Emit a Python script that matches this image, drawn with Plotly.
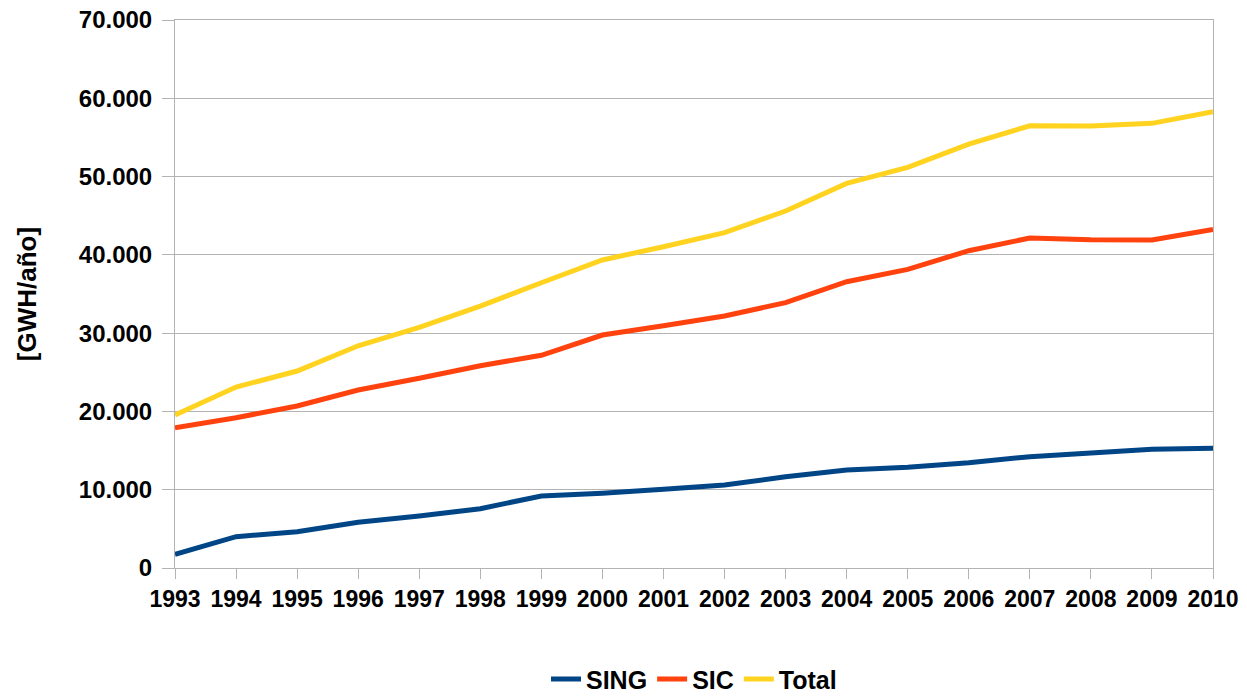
import plotly.graph_objects as go

years = list(range(1993, 2011))
sing = [1750, 4000, 4640, 5840, 6640, 7580, 9200, 9540, 10050, 10600,
        11660, 12520, 12860, 13450, 14220, 14730, 15160, 15290]
sic = [17920, 19200, 20690, 22730, 24230, 25840, 27170, 29760, 30950, 32190,
       33900, 36570, 38150, 40530, 42150, 41930, 41890, 43260]
total = [19540, 23120, 25160, 28390, 30740, 33460, 36440, 39350, 41040, 42830,
         45600, 49130, 51180, 54150, 56490, 56450, 56800, 58280]

series = [("SING", sing, "#004586"), ("SIC", sic, "#ff420e"), ("Total", total, "#ffd320")]

fig = go.Figure()
for name, vals, color in series:
    fig.add_trace(go.Scatter(x=years, y=vals, mode="lines", name=name,
                             line=dict(color=color, width=5)))

fnt = "Liberation Sans, Arial, sans-serif"
# page body has an 8px margin, so the figure is a bit smaller than the window
fig.update_layout(
    width=1239, height=692,
    margin=dict(l=167, r=34, t=12, b=132, autoexpand=False),
    paper_bgcolor="white", plot_bgcolor="white",
    separators=",.",
    font=dict(family=fnt, size=24, color="black", weight="bold"),
    showlegend=True,
    legend=dict(orientation="h", x=0.5, xanchor="center", y=-0.203, yanchor="middle",
                font=dict(family=fnt, size=25, weight="bold"), tracegroupgap=0),
)
fig.update_xaxes(
    range=[1993, 2010], tickmode="linear", dtick=1,
    tickfont=dict(family=fnt, size=23, weight="bold"), showgrid=False,
    showline=True, linecolor="#b3b3b3", linewidth=1, mirror=True,
    ticks="outside", ticklen=10, tickcolor="#b3b3b3", automargin=False,
    ticklabeloverflow="allow",
)
fig.update_yaxes(
    range=[0, 70000], dtick=10000, tickformat=",d",
    tickfont=dict(family=fnt, size=24, weight="bold"), ticklabelstandoff=5,
    showgrid=True, gridcolor="#b3b3b3", gridwidth=1, zeroline=False,
    showline=True, linecolor="#b3b3b3", linewidth=1, mirror=True,
    ticks="outside", ticklen=12, tickcolor="#b3b3b3", automargin=False,
    ticklabeloverflow="allow",
    title=dict(text="[GWH/año]", font=dict(family=fnt, size=26, weight="bold"), standoff=34),
)

fig.write_html("out.html")
